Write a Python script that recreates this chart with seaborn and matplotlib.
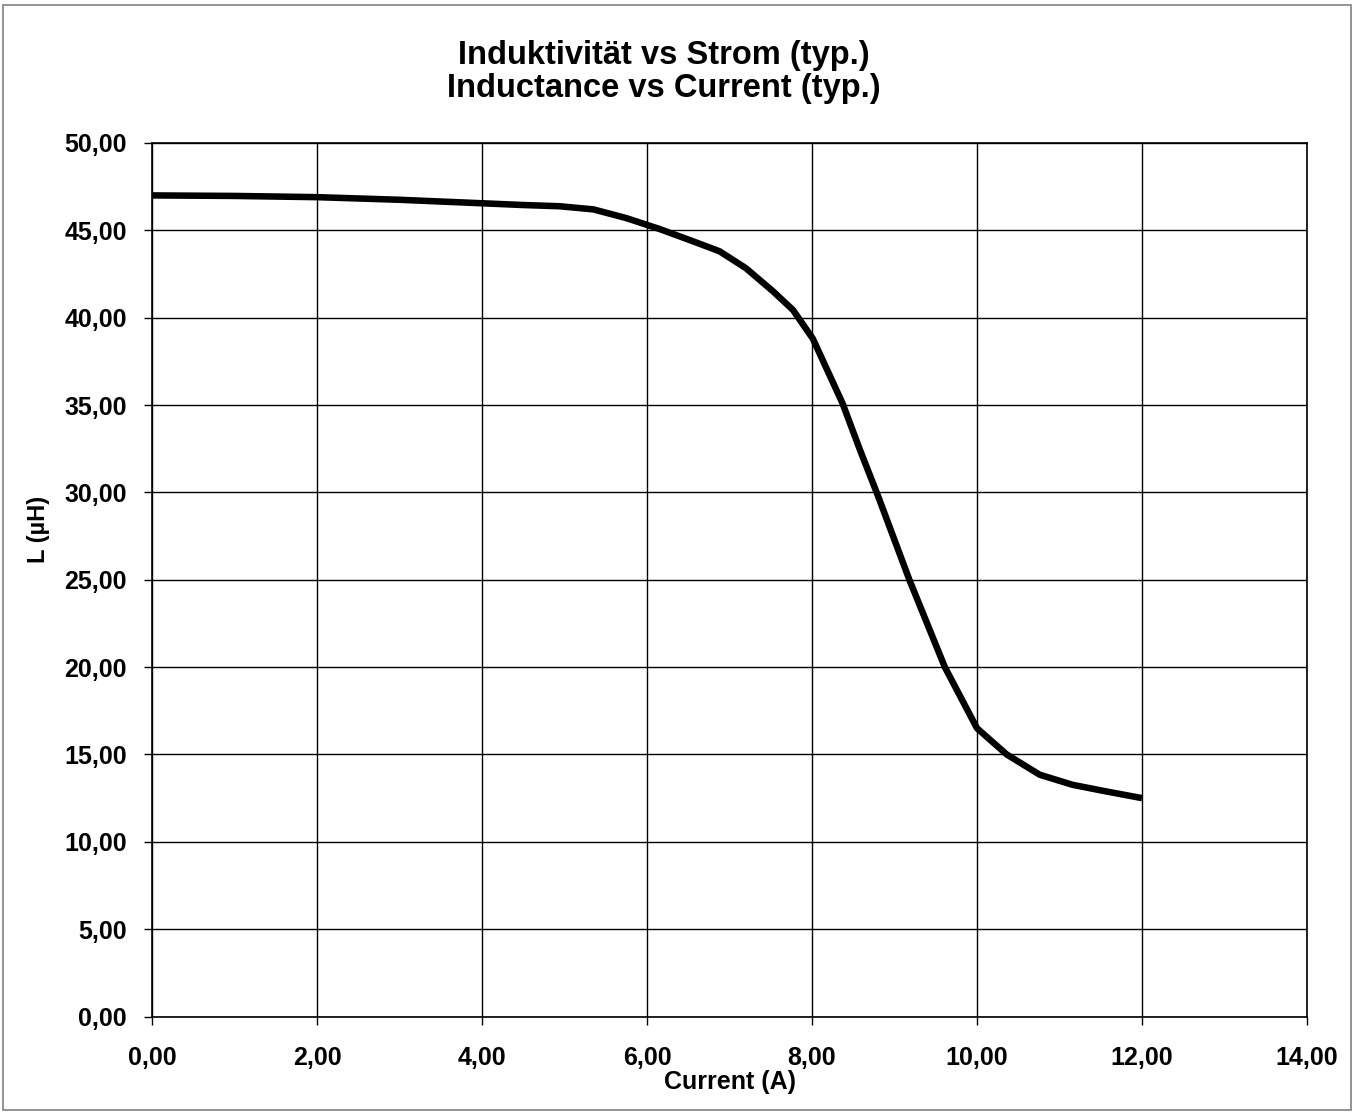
import matplotlib
matplotlib.use("Agg")
import matplotlib.pyplot as plt
import matplotlib.ticker as mticker
from matplotlib.patches import Rectangle
import seaborn as sns
import pandas as pd

# Data
current_a = [0.0, 1.0, 2.0, 3.0, 4.0, 4.5, 4.94, 5.35, 5.75, 6.15, 6.56, 6.88, 7.2,
             7.53, 7.77, 8.01, 8.37, 8.58, 8.8, 9.18, 9.61, 10.0, 10.36, 10.76,
             11.16, 11.57, 12.0]
inductance_uh = [47.0, 46.97, 46.9, 46.75, 46.55, 46.45, 46.38, 46.2, 45.7, 45.08,
                 44.37, 43.8, 42.83, 41.5, 40.44, 38.8, 35.1, 32.45, 29.8, 25.0,
                 20.0, 16.5, 15.0, 13.84, 13.26, 12.88, 12.5]
x_ticks = [0, 2, 4, 6, 8, 10, 12, 14]
y_ticks = [0, 5, 10, 15, 20, 25, 30, 35, 40, 45, 50]
title_lines = ["Induktivität vs Strom (typ.)", "Inductance vs Current (typ.)"]
x_label = "Current (A)"
y_label = "L (µH)"

sns.set_style("white")
plt.rcParams['font.family'] = ['Liberation Sans', 'DejaVu Sans']
plt.rcParams['font.weight'] = 'bold'

W, H = 1357, 1113
fig = plt.figure(figsize=(W / 100, H / 100), dpi=100)
ax = fig.add_axes([152 / W, 1 - 1016.5 / H, (1307 - 152) / W, (1016.5 - 143) / H])

df = pd.DataFrame({"x": current_a, "y": inductance_uh})
sns.lineplot(data=df, x="x", y="y", ax=ax, color="black", linewidth=4.7,
             solid_capstyle="butt", solid_joinstyle="round", zorder=5)

ax.set_xlim(0, 14)
ax.set_ylim(0, 50)
ax.set_xticks(x_ticks)
ax.set_yticks(y_ticks)
fmt = mticker.FuncFormatter(lambda v, p: f"{v:.2f}".replace(".", ","))
ax.xaxis.set_major_formatter(fmt)
ax.yaxis.set_major_formatter(fmt)
ax.grid(True, color="black", linewidth=1.0)
ax.set_axisbelow(True)
for s in ax.spines.values():
    s.set_color("black")
    s.set_linewidth(1.2)
ax.tick_params(axis="both", direction="out", length=6, width=1, color="black",
               labelsize=18, labelcolor="black", left=True, bottom=True)
ax.tick_params(axis="x", pad=15)
ax.tick_params(axis="y", pad=12)
for lab in ax.get_xticklabels() + ax.get_yticklabels():
    lab.set_fontweight("bold")

ax.set_xlabel(x_label, fontsize=18, fontweight="bold", color="black")
ax.set_ylabel(y_label, fontsize=17, fontweight="bold", color="black")
ax.xaxis.label.set_va("center")
ax.xaxis.set_label_coords(0.5, (1016.5 - 1082) / 873.5)
ax.yaxis.label.set_va("center")
ax.yaxis.set_label_coords((38 - 152) / 1155, (1016.5 - 529) / 873.5)

fig.text(664 / W, 1 - 64 / H, title_lines[0], ha="center", va="baseline",
         fontsize=23.5, fontweight="bold", color="black")
fig.text(664 / W, 1 - 97 / H, title_lines[1], ha="center", va="baseline",
         fontsize=23.5, fontweight="bold", color="black")

fig.patches.append(Rectangle((3 / W, 3 / H), (W - 9) / W, (H - 8) / H,
                             transform=fig.transFigure, fill=False,
                             edgecolor="#808080", linewidth=1.2))

fig.savefig("out.png", dpi=100, facecolor="white")
